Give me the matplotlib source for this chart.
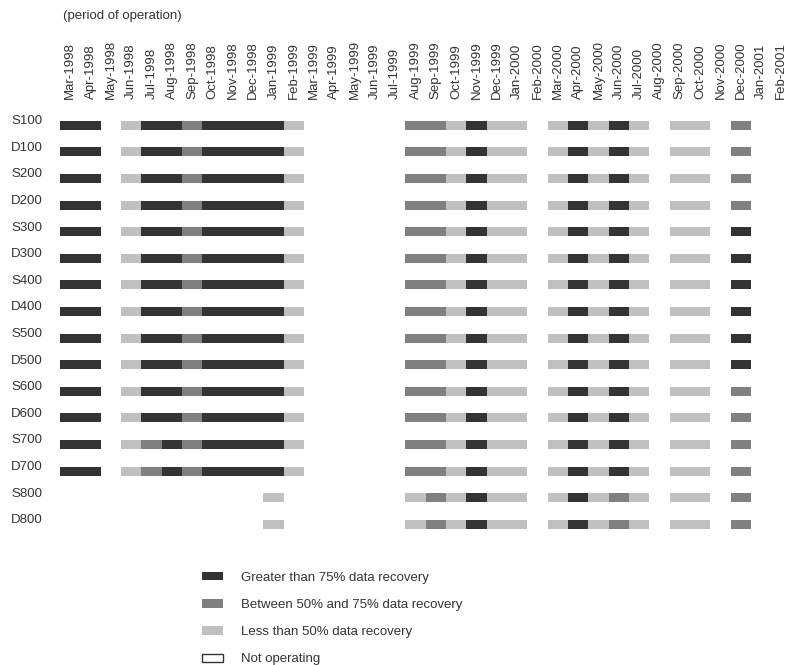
import matplotlib
matplotlib.use("Agg")
import matplotlib.pyplot as plt
from matplotlib.patches import Patch
from matplotlib.transforms import ScaledTranslation

plt.rcParams['font.family'] = ['Liberation Sans', 'DejaVu Sans']

# Monitoring sites (one row each)
sites = ["S100", "D100", "S200", "D200", "S300", "D300", "S400", "D400",
         "S500", "D500", "S600", "D600", "S700", "D700", "S800", "D800"]

# Months of the survey period (one column each)
months = ["Mar-1998", "Apr-1998", "May-1998", "Jun-1998", "Jul-1998", "Aug-1998",
          "Sep-1998", "Oct-1998", "Nov-1998", "Dec-1998", "Jan-1999", "Feb-1999",
          "Mar-1999", "Apr-1999", "May-1999", "Jun-1999", "Jul-1999", "Aug-1999",
          "Sep-1999", "Oct-1999", "Nov-1999", "Dec-1999", "Jan-2000", "Feb-2000",
          "Mar-2000", "Apr-2000", "May-2000", "Jun-2000", "Jul-2000", "Aug-2000",
          "Sep-2000", "Oct-2000", "Nov-2000", "Dec-2000", "Jan-2001", "Feb-2001"]

# Monthly data recovery class per site:
# 0 = not operating, 1 = < 50 %, 2 = 50-75 %, 3 = > 75 %
recovery = {
    "S100": "330133233331" "00000" "2213110131310110200",
    "D100": "330133233331" "00000" "2213110131310110200",
    "S200": "330133233331" "00000" "2213110131310110200",
    "D200": "330133233331" "00000" "2213110131310110200",
    "S300": "330133233331" "00000" "2213110131310110300",
    "D300": "330133233331" "00000" "2213110131310110300",
    "S400": "330133233331" "00000" "2213110131310110300",
    "D400": "330133233331" "00000" "2213110131310110300",
    "S500": "330133233331" "00000" "2213110131310110300",
    "D500": "330133233331" "00000" "2213110131310110300",
    "S600": "330133233331" "00000" "2213110131310110200",
    "D600": "330133233331" "00000" "2213110131310110200",
    "S700": "330123233331" "00000" "2213110131310110200",
    "D700": "330123233331" "00000" "2213110131310110200",
    "S800": "000000000010" "00000" "1213110131210110200",
    "D800": "000000000010" "00000" "1213110131210110200",
}

class_colors = {1: "#c0c0c0", 2: "#808080", 3: "#333333"}
class_labels = ["Greater than 75% data recovery",
                "Between 50% and 75% data recovery",
                "Less than 50% data recovery",
                "Not operating"]

W, H = 786, 665
fig = plt.figure(figsize=(W / 100, H / 100), dpi=100)

# Grid area in pixels
x0, col_w = 60.0, 20.32
y_top, row_h = 112.0, 26.6
n_rows = len(sites)
y_bot = y_top + n_rows * row_h
ax = fig.add_axes([x0 / W, 1 - y_bot / H, (W - x0) / W, (y_bot - y_top) / H])
ax.set_xlim(0, (W - x0) / col_w)
ax.set_ylim(n_rows, 0)

for r, site in enumerate(sites):
    codes = recovery[site]
    for c, ch in enumerate(codes):
        k = int(ch)
        if k == 0:
            continue
        ax.barh(r + 0.5, 1.0, left=c, height=0.34, color=class_colors[k],
                edgecolor="none", linewidth=0)

for s in ax.spines.values():
    s.set_visible(False)

text_color = "#333333"
ax.set_xticks([c + 0.5 for c in range(len(months))])
ax.set_xticklabels(months, rotation=90, fontsize=9.5, color=text_color)
ax.tick_params(axis="x", top=True, labeltop=True, bottom=False, labelbottom=False,
               length=0, pad=9.5)
ax.set_yticks([r + 0.5 for r in range(n_rows)])
ax.set_yticklabels(sites, fontsize=9.5, color=text_color)
ax.tick_params(axis="y", left=False, length=0, pad=12.5)
shift = ScaledTranslation(0, 4 / 72, fig.dpi_scale_trans)
for lab in ax.get_yticklabels():
    lab.set_transform(lab.get_transform() + shift)

fig.text(63 / W, 1 - 16 / H, "(period of operation)", fontsize=9.5,
         color=text_color, ha="left", va="center")

handles = [Patch(facecolor=class_colors[3], edgecolor="none"),
           Patch(facecolor=class_colors[2], edgecolor="none"),
           Patch(facecolor=class_colors[1], edgecolor="none"),
           Patch(facecolor="white", edgecolor="#333333", linewidth=1.0)]
fig.legend(handles, class_labels, loc="upper left",
           bbox_to_anchor=(190 / W, 1 - 560 / H), frameon=False,
           fontsize=9.5, handlelength=1.6, handleheight=0.6,
           handletextpad=1.4, labelspacing=1.15, labelcolor=text_color)

fig.savefig("out.png", dpi=100)
